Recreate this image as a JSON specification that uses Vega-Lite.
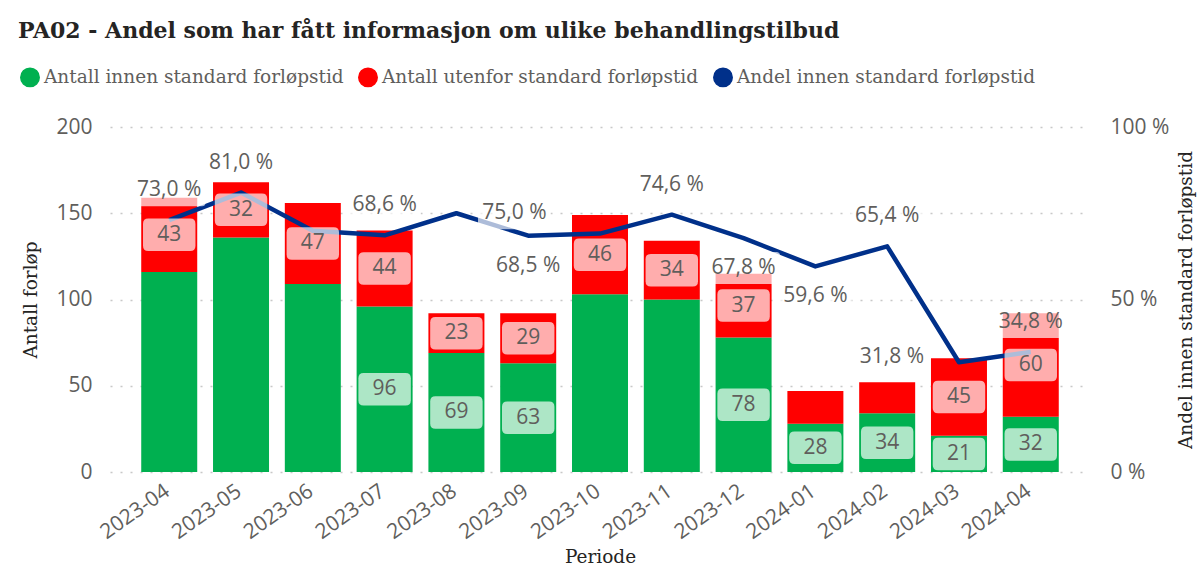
{
  "$schema": "https://vega.github.io/schema/vega-lite/v6.json",
  "width": 980,
  "height": 345,
  "autosize": {"type": "none"},
  "padding": {"left": 110, "top": 127, "right": 108, "bottom": 101},
  "background": "white",
  "title": {
    "text": "PA02 - Andel som har fått informasjon om ulike behandlingstilbud",
    "anchor": "start",
    "frame": "group",
    "dx": -92,
    "offset": 7,
    "baseline": "alphabetic",
    "font": "DejaVu Serif",
    "fontSize": 22,
    "fontWeight": "bold",
    "color": "#252423"
  },
  "config": {
    "view": {"stroke": null},
    "axis": {
      "labelFont": "Open Sans",
      "labelColor": "#605e5c",
      "labelFontSize": 21,
      "titleFont": "DejaVu Serif",
      "titleFontWeight": "normal",
      "titleColor": "#252423",
      "titleFontSize": 18.5,
      "domain": false,
      "ticks": false
    }
  },
  "datasets": {
    "bars": [
      {"periode": "2023-04", "serie": "Antall innen standard forløpstid", "antall": 116},
      {"periode": "2023-04", "serie": "Antall utenfor standard forløpstid", "antall": 43},
      {"periode": "2023-05", "serie": "Antall innen standard forløpstid", "antall": 136},
      {"periode": "2023-05", "serie": "Antall utenfor standard forløpstid", "antall": 32},
      {"periode": "2023-06", "serie": "Antall innen standard forløpstid", "antall": 109},
      {"periode": "2023-06", "serie": "Antall utenfor standard forløpstid", "antall": 47},
      {"periode": "2023-07", "serie": "Antall innen standard forløpstid", "antall": 96},
      {"periode": "2023-07", "serie": "Antall utenfor standard forløpstid", "antall": 44},
      {"periode": "2023-08", "serie": "Antall innen standard forløpstid", "antall": 69},
      {"periode": "2023-08", "serie": "Antall utenfor standard forløpstid", "antall": 23},
      {"periode": "2023-09", "serie": "Antall innen standard forløpstid", "antall": 63},
      {"periode": "2023-09", "serie": "Antall utenfor standard forløpstid", "antall": 29},
      {"periode": "2023-10", "serie": "Antall innen standard forløpstid", "antall": 103},
      {"periode": "2023-10", "serie": "Antall utenfor standard forløpstid", "antall": 46},
      {"periode": "2023-11", "serie": "Antall innen standard forløpstid", "antall": 100},
      {"periode": "2023-11", "serie": "Antall utenfor standard forløpstid", "antall": 34},
      {"periode": "2023-12", "serie": "Antall innen standard forløpstid", "antall": 78},
      {"periode": "2023-12", "serie": "Antall utenfor standard forløpstid", "antall": 37},
      {"periode": "2024-01", "serie": "Antall innen standard forløpstid", "antall": 28},
      {"periode": "2024-01", "serie": "Antall utenfor standard forløpstid", "antall": 19},
      {"periode": "2024-02", "serie": "Antall innen standard forløpstid", "antall": 34},
      {"periode": "2024-02", "serie": "Antall utenfor standard forløpstid", "antall": 18},
      {"periode": "2024-03", "serie": "Antall innen standard forløpstid", "antall": 21},
      {"periode": "2024-03", "serie": "Antall utenfor standard forløpstid", "antall": 45},
      {"periode": "2024-04", "serie": "Antall innen standard forløpstid", "antall": 32},
      {"periode": "2024-04", "serie": "Antall utenfor standard forløpstid", "antall": 60}
    ],
    "andel": [
      {"periode": "2023-04", "andel": 73.0},
      {"periode": "2023-05", "andel": 81.0},
      {"periode": "2023-06", "andel": 69.9},
      {"periode": "2023-07", "andel": 68.6},
      {"periode": "2023-08", "andel": 75.0},
      {"periode": "2023-09", "andel": 68.5},
      {"periode": "2023-10", "andel": 69.1},
      {"periode": "2023-11", "andel": 74.6},
      {"periode": "2023-12", "andel": 67.8},
      {"periode": "2024-01", "andel": 59.6},
      {"periode": "2024-02", "andel": 65.4},
      {"periode": "2024-03", "andel": 31.8},
      {"periode": "2024-04", "andel": 34.8}
    ]
  },
  "encoding": {
    "x": {
      "field": "periode",
      "type": "nominal",
      "scale": {"paddingInner": 0.22, "paddingOuter": 0.435},
      "axis": {
        "title": "Periode",
        "labelAngle": -35,
        "labelPadding": 8,
        "labelOffset": -8,
        "titlePadding": 5,
        "grid": false
      }
    }
  },
  "layer": [
    {
      "data": {"name": "bars"},
      "mark": {"type": "bar"},
      "encoding": {
        "y": {
          "field": "antall",
          "type": "quantitative",
          "stack": "zero",
          "scale": {"domain": [0, 200], "nice": false},
          "title": "Antall forløp",
          "axis": {
            "values": [0, 50, 100, 150, 200],
            "grid": true,
            "gridColor": "#c8c8c8",
            "gridDash": [2, 8],
            "gridWidth": 1.5,
            "labelPadding": 18,
            "titlePadding": 15
          }
        },
        "order": {"field": "serie", "type": "nominal", "sort": "ascending"},
        "color": {
          "field": "serie",
          "type": "nominal",
          "scale": {
            "domain": ["Antall innen standard forløpstid", "Antall utenfor standard forløpstid", "Andel innen standard forløpstid"],
            "range": ["#00b050", "#ff0000", "#00308a"]
          },
          "legend": {
            "title": null,
            "orient": "none",
            "legendX": -90,
            "legendY": -60,
            "direction": "horizontal",
            "symbolType": "circle",
            "symbolSize": 340,
            "labelFont": "DejaVu Serif",
            "labelFontSize": 18.5,
            "labelColor": "#605e5c",
            "labelOffset": 4,
            "columnPadding": 11,
            "labelLimit": 400,
            "encode": {
              "symbols": {
                "update": {
                  "fill": {"scale": "color", "field": "value"},
                  "stroke": {"value": "transparent"},
                  "opacity": {"value": 1}
                }
              }
            }
          }
        }
      }
    },
    {
      "data": {"name": "andel"},
      "mark": {"type": "line", "strokeWidth": 4.5, "strokeJoin": "round"},
      "encoding": {
        "y": {
          "field": "andel",
          "type": "quantitative",
          "scale": {"domain": [0, 100], "nice": false},
          "title": "Andel innen standard forløpstid",
          "axis": {
            "orient": "right",
            "values": [0, 50, 100],
            "grid": false,
            "labelExpr": "datum.value + ' %'",
            "labelPadding": 20,
            "titlePadding": 27,
            "titleAngle": 270
          }
        },
        "color": {"datum": "Andel innen standard forløpstid", "type": "nominal"}
      }
    },
    {
      "data": {"name": "bars"},
      "transform": [
        {"stack": "antall", "groupby": ["periode"], "sort": [{"field": "serie", "order": "ascending"}], "as": ["y0", "y1"]},
        {"calculate": "(datum.y0 + datum.y1) / 2", "as": "mid"},
        {"filter": "(datum.serie === 'Antall innen standard forløpstid' && datum.antall < 100) || (datum.serie === 'Antall utenfor standard forløpstid' && datum.antall > 20)"}
      ],
      "mark": {
        "type": "point",
        "filled": true,
        "fill": "white",
        "opacity": 0.68,
        "size": 2750,
        "strokeWidth": 0,
        "shape": "M-0.8,-0.62 L0.8,-0.62 Q1,-0.62 1,-0.42 L1,0.42 Q1,0.62 0.8,0.62 L-0.8,0.62 Q-1,0.62 -1,0.42 L-1,-0.42 Q-1,-0.62 -0.8,-0.62 Z"
      },
      "encoding": {
        "y": {"field": "mid", "type": "quantitative", "scale": {"domain": [0, 200], "nice": false}, "axis": null}
      }
    },
    {
      "data": {"name": "bars"},
      "transform": [
        {"stack": "antall", "groupby": ["periode"], "sort": [{"field": "serie", "order": "ascending"}], "as": ["y0", "y1"]},
        {"calculate": "(datum.y0 + datum.y1) / 2", "as": "mid"},
        {"filter": "(datum.serie === 'Antall innen standard forløpstid' && datum.antall < 100) || (datum.serie === 'Antall utenfor standard forløpstid' && datum.antall > 20)"}
      ],
      "mark": {"type": "text", "font": "Open Sans", "fontSize": 21, "color": "#605e5c", "baseline": "middle"},
      "encoding": {
        "y": {"field": "mid", "type": "quantitative", "scale": {"domain": [0, 200], "nice": false}, "axis": null},
        "text": {"field": "antall", "type": "quantitative"}
      }
    },
    {
      "data": {"name": "andel"},
      "transform": [
        {"filter": "indexof(['2023-04','2023-05','2023-07','2023-11','2024-02','2024-04'], datum.periode) >= 0"}
      ],
      "mark": {
        "type": "point", "filled": true, "fill": "white", "opacity": 0.68, "size": 5300, "strokeWidth": 0, "yOffset": -30,
        "shape": "M-0.9,-0.44 L0.9,-0.44 Q1,-0.44 1,-0.34 L1,0.34 Q1,0.44 0.9,0.44 L-0.9,0.44 Q-1,0.44 -1,0.34 L-1,-0.34 Q-1,-0.44 -0.9,-0.44 Z"
      },
      "encoding": {
        "y": {"field": "andel", "type": "quantitative", "scale": {"domain": [0, 100], "nice": false}, "axis": null}
      }
    },
    {
      "data": {"name": "andel"},
      "transform": [
        {"filter": "indexof(['2023-04','2023-05','2023-07','2023-11','2024-02','2024-04'], datum.periode) >= 0"},
        {"calculate": "replace(format(datum.andel, '.1f'), '.', ',') + ' %'", "as": "lbl"}
      ],
      "mark": {"type": "text", "font": "Open Sans", "fontSize": 21, "color": "#605e5c", "baseline": "middle", "yOffset": -30},
      "encoding": {
        "y": {"field": "andel", "type": "quantitative", "scale": {"domain": [0, 100], "nice": false}, "axis": null},
        "text": {"field": "lbl", "type": "nominal"}
      }
    },
    {
      "data": {"name": "andel"},
      "transform": [
        {"filter": "indexof(['2023-09','2023-12','2024-01'], datum.periode) >= 0"}
      ],
      "mark": {
        "type": "point", "filled": true, "fill": "white", "opacity": 0.68, "size": 5300, "strokeWidth": 0, "yOffset": 30,
        "shape": "M-0.9,-0.44 L0.9,-0.44 Q1,-0.44 1,-0.34 L1,0.34 Q1,0.44 0.9,0.44 L-0.9,0.44 Q-1,0.44 -1,0.34 L-1,-0.34 Q-1,-0.44 -0.9,-0.44 Z"
      },
      "encoding": {
        "y": {"field": "andel", "type": "quantitative", "scale": {"domain": [0, 100], "nice": false}, "axis": null}
      }
    },
    {
      "data": {"name": "andel"},
      "transform": [
        {"filter": "indexof(['2023-09','2023-12','2024-01'], datum.periode) >= 0"},
        {"calculate": "replace(format(datum.andel, '.1f'), '.', ',') + ' %'", "as": "lbl"}
      ],
      "mark": {"type": "text", "font": "Open Sans", "fontSize": 21, "color": "#605e5c", "baseline": "middle", "yOffset": 30},
      "encoding": {
        "y": {"field": "andel", "type": "quantitative", "scale": {"domain": [0, 100], "nice": false}, "axis": null},
        "text": {"field": "lbl", "type": "nominal"}
      }
    },
    {
      "data": {"name": "andel"},
      "transform": [
        {"filter": "datum.periode === '2023-08'"}
      ],
      "mark": {
        "type": "point", "filled": true, "fill": "white", "opacity": 0.68, "size": 5300, "strokeWidth": 0, "xOffset": 58,
        "shape": "M-0.9,-0.44 L0.9,-0.44 Q1,-0.44 1,-0.34 L1,0.34 Q1,0.44 0.9,0.44 L-0.9,0.44 Q-1,0.44 -1,0.34 L-1,-0.34 Q-1,-0.44 -0.9,-0.44 Z"
      },
      "encoding": {
        "y": {"field": "andel", "type": "quantitative", "scale": {"domain": [0, 100], "nice": false}, "axis": null}
      }
    },
    {
      "data": {"name": "andel"},
      "transform": [
        {"filter": "datum.periode === '2023-08'"},
        {"calculate": "replace(format(datum.andel, '.1f'), '.', ',') + ' %'", "as": "lbl"}
      ],
      "mark": {"type": "text", "font": "Open Sans", "fontSize": 21, "color": "#605e5c", "baseline": "middle", "xOffset": 58},
      "encoding": {
        "y": {"field": "andel", "type": "quantitative", "scale": {"domain": [0, 100], "nice": false}, "axis": null},
        "text": {"field": "lbl", "type": "nominal"}
      }
    },
    {
      "data": {"name": "andel"},
      "transform": [
        {"filter": "datum.periode === '2024-03'"}
      ],
      "mark": {
        "type": "point", "filled": true, "fill": "white", "opacity": 0.68, "size": 5300, "strokeWidth": 0, "xOffset": -67, "yOffset": -5,
        "shape": "M-0.9,-0.44 L0.9,-0.44 Q1,-0.44 1,-0.34 L1,0.34 Q1,0.44 0.9,0.44 L-0.9,0.44 Q-1,0.44 -1,0.34 L-1,-0.34 Q-1,-0.44 -0.9,-0.44 Z"
      },
      "encoding": {
        "y": {"field": "andel", "type": "quantitative", "scale": {"domain": [0, 100], "nice": false}, "axis": null}
      }
    },
    {
      "data": {"name": "andel"},
      "transform": [
        {"filter": "datum.periode === '2024-03'"},
        {"calculate": "replace(format(datum.andel, '.1f'), '.', ',') + ' %'", "as": "lbl"}
      ],
      "mark": {"type": "text", "font": "Open Sans", "fontSize": 21, "color": "#605e5c", "baseline": "middle", "xOffset": -67, "yOffset": -5},
      "encoding": {
        "y": {"field": "andel", "type": "quantitative", "scale": {"domain": [0, 100], "nice": false}, "axis": null},
        "text": {"field": "lbl", "type": "nominal"}
      }
    }
  ],
  "resolve": {"scale": {"y": "independent"}}
}
